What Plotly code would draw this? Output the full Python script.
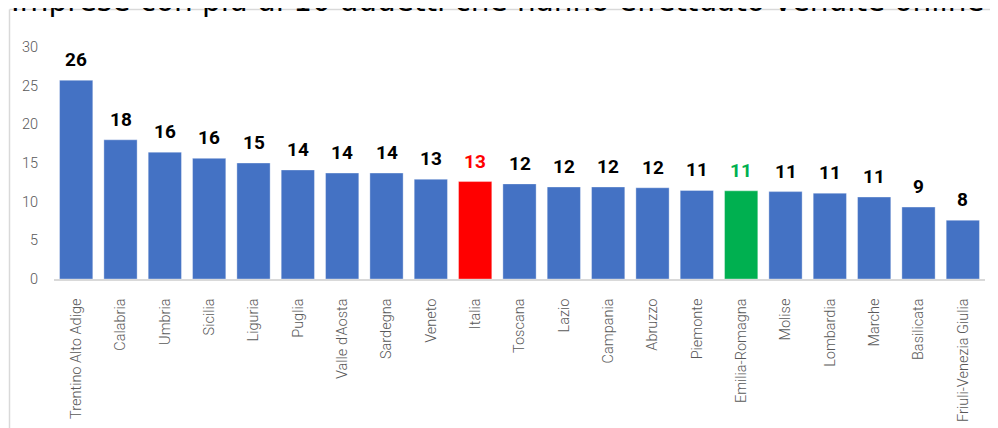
import plotly.graph_objects as go

# ---- data ----
regions = ["Trentino Alto Adige", "Calabria", "Umbria", "Sicilia", "Liguria", "Puglia",
           "Valle d'Aosta", "Sardegna", "Veneto", "Italia", "Toscana", "Lazio", "Campania",
           "Abruzzo", "Piemonte", "Emilia-Romagna", "Molise", "Lombardia", "Marche",
           "Basilicata", "Friuli-Venezia Giulia"]
values = [25.7, 18.0, 16.4, 15.6, 15.0, 14.1, 13.7, 13.7, 12.9, 12.6, 12.3, 11.9, 11.9,
          11.8, 11.45, 11.4, 11.3, 11.1, 10.6, 9.3, 7.6]
labels = ["26", "18", "16", "16", "15", "14", "14", "14", "13", "13", "12", "12", "12",
          "12", "11", "11", "11", "11", "11", "9", "8"]
title_text = "Imprese con più di 10 addetti che hanno effettuato vendite online"
y_ticks = [0, 5, 10, 15, 20, 25, 30]

BLUE, RED, GREEN = "#4472C4", "#FF0000", "#00B050"
highlight = {"Italia": RED, "Emilia-Romagna": GREEN}
bar_colors = [highlight.get(r, BLUE) for r in regions]
label_colors = [highlight.get(r, "#000000") for r in regions]

# page body has an 8px margin, so the figure starts at (8, 8) in the window
W, H = 990, 420
ML, MR, MT, MB = 46, 13, 39, 149

fig = go.Figure()
fig.add_trace(go.Bar(
    x=regions, y=values,
    marker=dict(color=bar_colors, line=dict(color="rgba(255,255,255,0.35)", width=1)),
    width=0.75, hoverinfo="x+y",
))

for r, v, t, c in zip(regions, values, labels, label_colors):
    fig.add_annotation(
        x=r, y=v, text=t,
        showarrow=False, yanchor="bottom", yshift=7,
        font=dict(family="Roboto", size=19, color=c, weight=700),
    )

pw = W - ML - MR
ph = H - MT - MB

# title (cut off at the top of the page, as in the reference)
fig.add_annotation(
    xref="paper", yref="paper", x=(1 - ML) / pw, y=1 + (MT - 12) / ph,
    xanchor="left", yanchor="bottom", showarrow=False, text=title_text,
    font=dict(family="DejaVu Sans", size=29.5, color="#000000"),
)

# chart-area border (light gray): only top and left edges are visible in the page
bx0 = (1.5 - ML) / pw
by1 = 1 + (MT - 1.5) / ph
fig.add_shape(type="line", xref="paper", yref="paper",
              x0=bx0, x1=(W + 40 - ML) / pw, y0=by1, y1=by1,
              line=dict(color="#D9D9D9", width=1.5), layer="below")
fig.add_shape(type="line", xref="paper", yref="paper",
              x0=bx0, x1=bx0, y0=by1, y1=-(H + 40 - MT - ph) / ph,
              line=dict(color="#D9D9D9", width=1.5), layer="below")

fig.update_layout(
    width=W, height=H,
    margin=dict(l=ML, r=MR, t=MT, b=MB, pad=0, autoexpand=False),
    paper_bgcolor="white", plot_bgcolor="white",
    showlegend=False,
    bargap=0.25,
    xaxis=dict(
        tickangle=-90, showgrid=False, showline=True, linecolor="#D9D9D9", linewidth=1.5,
        ticks="", ticklabelstandoff=12, automargin=False,
        tickfont=dict(family="Roboto", size=14.5, color="#595959", weight=300),
    ),
    yaxis=dict(
        range=[0, 30], tickvals=y_ticks, showgrid=False, zeroline=False, showline=False,
        ticks="", ticklabelstandoff=15, automargin=False,
        tickfont=dict(family="Roboto", size=14.5, color="#595959", weight=300),
    ),
)

fig.write_html("out.html")
